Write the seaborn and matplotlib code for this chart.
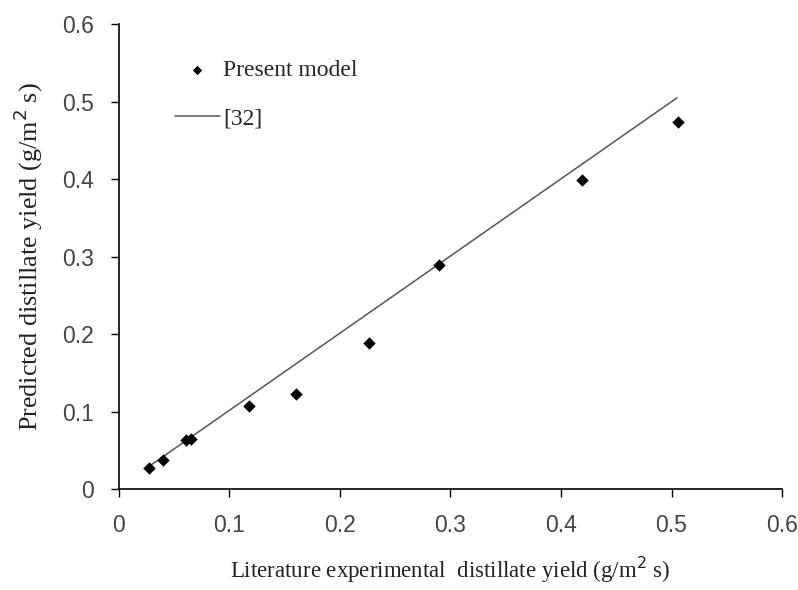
import matplotlib
matplotlib.use("Agg")
import matplotlib.pyplot as plt
import seaborn as sns
import pandas as pd

# Data
exp_yield = [0.027, 0.040, 0.061, 0.065, 0.118, 0.160, 0.226, 0.290, 0.419, 0.506]
pred_yield = [0.027, 0.037, 0.063, 0.065, 0.107, 0.123, 0.188, 0.289, 0.399, 0.474]
ref_x = [0.028, 0.505]
ref_y = [0.030, 0.505]
ticks = [0, 0.1, 0.2, 0.3, 0.4, 0.5, 0.6]
tick_labels = ["0", "0.1", "0.2", "0.3", "0.4", "0.5", "0.6"]

sns.set_theme(style="ticks")
plt.rcParams['font.family'] = ['Liberation Serif', 'DejaVu Serif']

fig = plt.figure(figsize=(7.98, 5.90), dpi=100)
ax = fig.add_axes([0.149, 0.171, 0.831, 0.788])

df_pts = pd.DataFrame({"x": exp_yield, "y": pred_yield})
df_line = pd.DataFrame({"x": ref_x, "y": ref_y})

sns.lineplot(data=df_line, x="x", y="y", ax=ax, color="#555555", linewidth=1.1,
             label="[32]", legend=False)
sns.scatterplot(data=df_pts, x="x", y="y", ax=ax, marker="D", s=40, color="black",
                edgecolor="black", linewidth=0, label="Present model", legend=False, zorder=3)

ax.set_xlim(0, 0.6)
ax.set_ylim(0, 0.6)
ax.set_xticks(ticks)
ax.set_yticks(ticks)
ax.set_xticklabels(tick_labels, family=['Liberation Sans', 'DejaVu Sans'])
ax.set_yticklabels(tick_labels, family=['Liberation Sans', 'DejaVu Sans'])
ax.tick_params(axis="both", labelsize=16.5, length=6, width=1, color="black", pad=12,
               direction="out", labelcolor="#444444")
for s in ["top", "right"]:
    ax.spines[s].set_visible(False)
for s in ["left", "bottom"]:
    ax.spines[s].set_color("black")
    ax.spines[s].set_linewidth(1.2)

ax.set_xlabel("Literature experimental  distillate yield (g/m$^2$ s)", fontsize=16.5,
              labelpad=13, color="#222222")
ax.set_ylabel("Predicted distillate yield (g/m$^2$ s)", fontsize=18.8, labelpad=12,
              color="#222222")
ax.grid(False)

handles, labels = ax.get_legend_handles_labels()
order = [labels.index("Present model"), labels.index("[32]")]
leg = ax.legend([handles[i] for i in order], [labels[i] for i in order],
                loc="upper left", bbox_to_anchor=(0.07, 0.945), frameon=False,
                fontsize=17, labelspacing=1.15, handlelength=1.9, handletextpad=0.15,
                markerscale=0.75, borderaxespad=0)

fig.savefig("out.png", dpi=100, facecolor="white")
